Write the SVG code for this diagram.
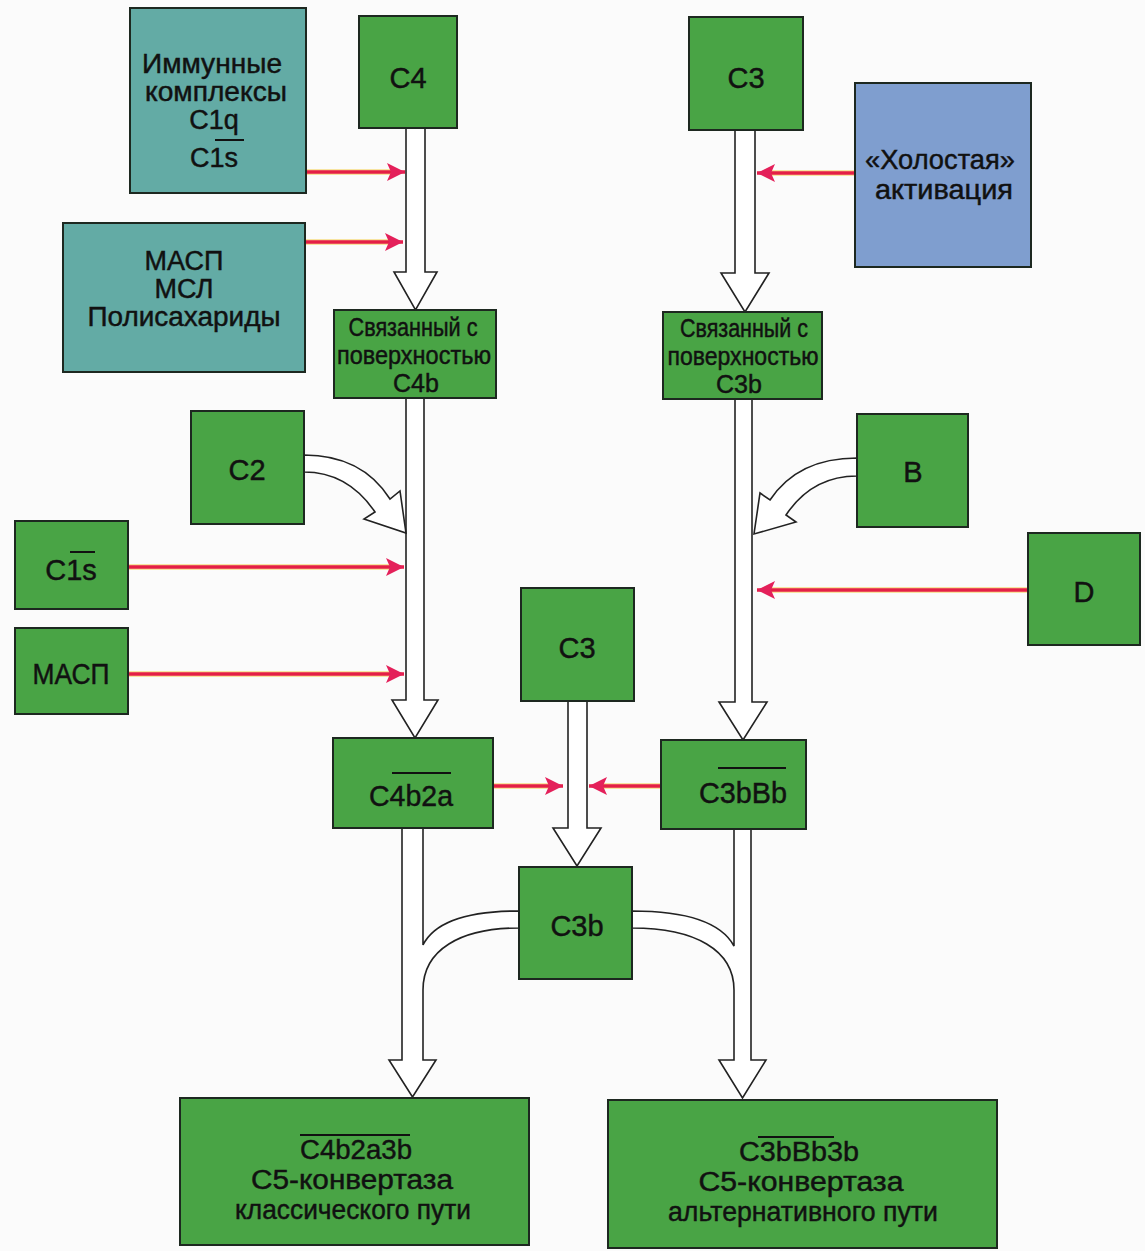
<svg xmlns="http://www.w3.org/2000/svg" width="1145" height="1251" viewBox="0 0 1145 1251">
<style>
.box{stroke:#1d2820;stroke-width:2}
.green{fill:#49a445}
.teal{fill:#63aba5}
.blue{fill:#7f9ecf}
.lbl{font-family:"Liberation Sans",Arial,sans-serif;font-size:29px;fill:#111;stroke:#111;stroke-width:0.45;text-anchor:middle}
.s27{font-size:27px}
.s24{font-size:25px}
.ov{stroke:#111;stroke-width:2}
.hollow{fill:#fff;stroke:#222;stroke-width:1.6;stroke-linejoin:miter}
.glow{stroke:#f2c21a;stroke-width:6;fill:none;opacity:0.4}
.red{stroke:#e41f45;stroke-width:3.5;fill:none}
</style>
<defs>
<marker id="rh" markerUnits="userSpaceOnUse" markerWidth="20" markerHeight="18" refX="18" refY="9" orient="auto">
<path d="M0,0 L18,9 L0,18 L4,9 Z" fill="#e4205a"/>
</marker>
</defs>
<rect width="1145" height="1251" fill="#fbfbfb"/>

<g id="connectors">
<polygon class="hollow" points="406,128 406,272 394,272 415.5,310 437,272 425,272 425,128"/>
<polygon class="hollow" points="406,398 406,700 392,700 415,738 438,700 424,700 424,398"/>
<polygon class="hollow" points="735,130 735,273 721,273 745,312 769,273 755,273 755,130"/>
<polygon class="hollow" points="735,399 735,702 719,702 743,740 767,702 752,702 752,399"/>
<polygon class="hollow" points="568,701 568,828 553,828 577,866 601,828 587,828 587,701"/>
<path class="hollow" d="M304,455 Q362,455 390,499 L400,491 L406,533 L364,519 L375,512 Q348,472 304,472 Z"/>
<path class="hollow" d="M857,458 Q798,458 770,500 L760,493 L754,534 L796,522 L786,515 Q812,476 857,476 Z"/>
<path class="hollow" d="M402,828 L402,1060 L389,1060 L412.5,1097 L436,1060 L423,1060 L423,990 C423,950 460,928 519,928 L519,911 Q440,911 423,945 L423,828 Z"/>
<path class="hollow" d="M751,829 L751,1060 L766,1060 L742.5,1098 L719,1060 L734,1060 L734,990 C734,950 695,928 632,928 L632,911 Q715,911 734,946 L734,829 Z"/>
<g>
<line class="glow" x1="306" y1="172" x2="392" y2="172"/>
<line class="red" x1="306" y1="172" x2="405" y2="172" marker-end="url(#rh)"/>
<line class="glow" x1="305" y1="242" x2="390" y2="242"/>
<line class="red" x1="305" y1="242" x2="403" y2="242" marker-end="url(#rh)"/>
<line class="glow" x1="855" y1="173" x2="770" y2="173"/>
<line class="red" x1="855" y1="173" x2="757" y2="173" marker-end="url(#rh)"/>
<line class="glow" x1="128" y1="567" x2="390" y2="567"/>
<line class="red" x1="128" y1="567" x2="404" y2="567" marker-end="url(#rh)"/>
<line class="glow" x1="128" y1="674" x2="390" y2="674"/>
<line class="red" x1="128" y1="674" x2="404" y2="674" marker-end="url(#rh)"/>
<line class="glow" x1="1028" y1="590" x2="770" y2="590"/>
<line class="red" x1="1028" y1="590" x2="757" y2="590" marker-end="url(#rh)"/>
<line class="glow" x1="493" y1="786" x2="550" y2="786"/>
<line class="red" x1="493" y1="786" x2="563" y2="786" marker-end="url(#rh)"/>
<line class="glow" x1="661" y1="786" x2="602" y2="786"/>
<line class="red" x1="661" y1="786" x2="589" y2="786" marker-end="url(#rh)"/>
</g>
</g>

<g id="immune">
<rect class="box teal" x="130" y="8" width="176" height="185"/>
<text class="lbl s27" x="212" y="73" textLength="140" lengthAdjust="spacingAndGlyphs">Иммунные</text>
<text class="lbl s27" x="216" y="101" textLength="142" lengthAdjust="spacingAndGlyphs">комплексы</text>
<text class="lbl s27" x="214" y="129">C1q</text>
<text class="lbl s27" x="214" y="167">C1s</text>
<line class="ov" x1="215" y1="140" x2="244" y2="140"/>
</g>
<g id="c4">
<rect class="box green" x="359" y="16" width="98" height="112"/>
<text class="lbl" x="408" y="88">C4</text>
</g>
<g id="c3top">
<rect class="box green" x="689" y="17" width="114" height="113"/>
<text class="lbl" x="746" y="88">C3</text>
</g>
<g id="idle">
<rect class="box blue" x="855" y="83" width="176" height="184"/>
<text class="lbl s27" x="940" y="169" textLength="150" lengthAdjust="spacingAndGlyphs">«Холостая»</text>
<text class="lbl s27" x="944" y="199" textLength="138" lengthAdjust="spacingAndGlyphs">активация</text>
</g>
<g id="masp-lectin">
<rect class="box teal" x="63" y="223" width="242" height="149"/>
<text class="lbl s27" x="184" y="270">МАСП</text>
<text class="lbl s27" x="184" y="298">МСЛ</text>
<text class="lbl s27" x="184" y="326" textLength="193" lengthAdjust="spacingAndGlyphs">Полисахариды</text>
</g>
<g id="c4b-bound">
<rect class="box green" x="334" y="310" width="162" height="88"/>
<text class="lbl s24" x="413" y="336" textLength="129" lengthAdjust="spacingAndGlyphs">Связанный с</text>
<text class="lbl s24" x="414" y="364" textLength="154" lengthAdjust="spacingAndGlyphs">поверхностью</text>
<text class="lbl s24" x="416" y="392">C4b</text>
</g>
<g id="c3b-bound">
<rect class="box green" x="663" y="312" width="159" height="87"/>
<text class="lbl s24" x="744" y="337" textLength="128" lengthAdjust="spacingAndGlyphs">Связанный с</text>
<text class="lbl s24" x="743" y="365" textLength="151" lengthAdjust="spacingAndGlyphs">поверхностью</text>
<text class="lbl s24" x="739" y="393">C3b</text>
</g>
<g id="c2">
<rect class="box green" x="191" y="411" width="113" height="113"/>
<text class="lbl" x="247" y="480">C2</text>
</g>
<g id="b">
<rect class="box green" x="857" y="414" width="111" height="113"/>
<text class="lbl" x="913" y="482">B</text>
</g>
<g id="d">
<rect class="box green" x="1028" y="533" width="112" height="112"/>
<text class="lbl" x="1084" y="602">D</text>
</g>
<g id="c1s">
<rect class="box green" x="15" y="521" width="113" height="88"/>
<text class="lbl" x="71" y="580">C1s</text>
<line class="ov" x1="70" y1="552" x2="95" y2="552"/>
</g>
<g id="masp">
<rect class="box green" x="15" y="628" width="113" height="86"/>
<text class="lbl" x="71" y="684" textLength="77" lengthAdjust="spacingAndGlyphs">МАСП</text>
</g>
<g id="c3mid">
<rect class="box green" x="521" y="588" width="113" height="113"/>
<text class="lbl" x="577" y="658">C3</text>
</g>
<g id="c4b2a">
<rect class="box green" x="333" y="738" width="160" height="90"/>
<text class="lbl" x="411" y="806" textLength="84" lengthAdjust="spacingAndGlyphs">C4b2a</text>
<line class="ov" x1="392" y1="773" x2="451" y2="773"/>
</g>
<g id="c3bbb">
<rect class="box green" x="661" y="740" width="145" height="89"/>
<text class="lbl" x="743" y="803" textLength="88" lengthAdjust="spacingAndGlyphs">C3bBb</text>
<line class="ov" x1="718" y1="768" x2="786" y2="768"/>
</g>
<g id="c3b">
<rect class="box green" x="519" y="867" width="113" height="112"/>
<text class="lbl" x="577" y="936">C3b</text>
</g>
<g id="classical-c5">
<rect class="box green" x="180" y="1098" width="349" height="147"/>
<text class="lbl s27" x="356" y="1159" textLength="112" lengthAdjust="spacingAndGlyphs">C4b2a3b</text>
<line class="ov" x1="300" y1="1135" x2="410" y2="1135"/>
<text class="lbl s27" x="352" y="1189" textLength="202" lengthAdjust="spacingAndGlyphs">C5-конвертаза</text>
<text class="lbl s27" x="353" y="1219" textLength="236" lengthAdjust="spacingAndGlyphs">классического пути</text>
</g>
<g id="alternative-c5">
<rect class="box green" x="608" y="1100" width="389" height="148"/>
<text class="lbl s27" x="799" y="1161" textLength="120" lengthAdjust="spacingAndGlyphs">C3bBb3b</text>
<line class="ov" x1="758" y1="1137" x2="834" y2="1137"/>
<text class="lbl s27" x="801" y="1191" textLength="205" lengthAdjust="spacingAndGlyphs">C5-конвертаза</text>
<text class="lbl s27" x="803" y="1221" textLength="270" lengthAdjust="spacingAndGlyphs">альтернативного пути</text>
</g>
</svg>
